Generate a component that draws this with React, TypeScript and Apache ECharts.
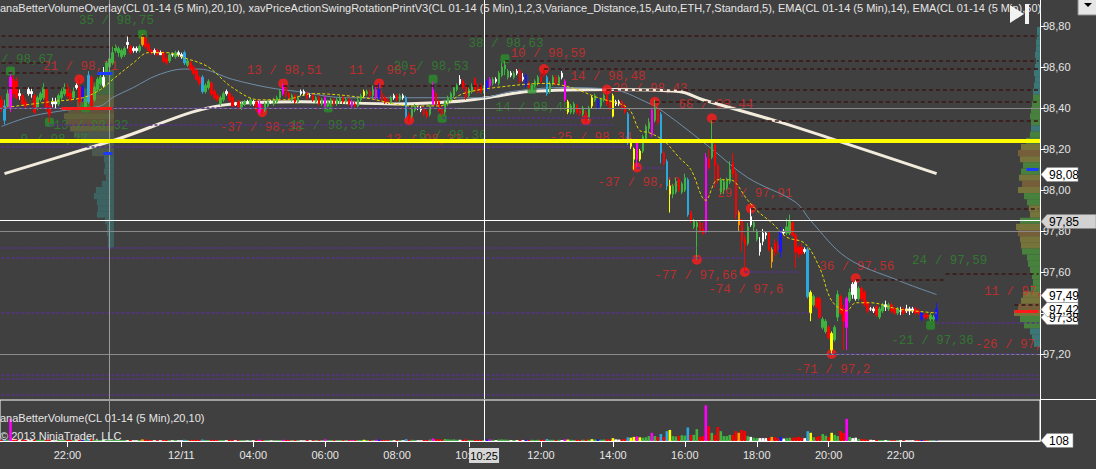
import React, { useEffect, useRef } from 'react';
import * as echarts from 'echarts';

const BG = '#404040';
const N_CATS = 347;

const opens = [
98.44,98.34,98.41,98.40,98.54,98.53,98.46,98.46,98.43,98.47,
98.48,98.46,98.40,98.44,98.45,98.49,98.41,98.42,98.43,98.42,
98.45,98.47,98.50,98.47,98.45,98.50,98.50,98.50,98.40,98.43,
98.55,98.44,98.49,98.52,98.51,98.57,98.60,98.62,98.68,98.67,
98.65,98.66,98.71,98.70,98.68,98.69,98.68,98.71,98.74,98.71,
98.68,98.67,98.68,98.66,98.67,98.64,98.63,98.66,98.65,98.66,
98.66,98.67,98.61,98.62,98.60,98.58,98.55,98.55,98.48,98.50,
98.52,98.48,98.46,98.42,98.44,98.47,98.47,98.45,98.42,98.43,
98.40,98.42,98.43,98.42,98.43,98.43,98.38,98.41,98.39,98.41,
98.43,98.42,98.43,98.45,98.47,98.50,98.47,98.44,98.46,98.43,
98.47,98.48,98.47,98.46,98.46,98.43,98.45,98.42,98.45,98.41,
98.42,98.44,98.42,98.43,98.45,98.43,98.44,98.43,98.42,98.41,
98.44,98.46,98.47,98.48,98.46,98.49,98.49,98.47,98.45,98.44,
98.43,98.45,98.46,98.44,98.46,98.45,98.37,98.36,98.39,98.40,
98.40,98.40,98.38,98.37,98.42,98.47,98.43,98.40,98.38,98.42,
98.44,98.46,98.49,98.52,98.53,98.51,98.46,98.48,98.54,98.50,
98.51,98.48,98.49,98.51,98.52,98.53,98.52,98.56,98.59,98.55,
98.57,98.55,98.57,98.58,98.54,98.56,98.52,98.49,98.51,98.52,
98.55,98.58,98.55,98.48,98.52,98.55,98.52,98.55,98.53,98.43,
98.38,98.38,98.41,98.39,98.37,98.38,98.35,98.41,98.44,98.44,
98.41,98.44,98.46,98.43,98.46,98.42,98.43,98.43,98.41,98.37,
98.24,98.20,98.24,98.15,98.19,98.25,98.30,98.27,98.34,98.40,
98.37,98.18,98.14,98.02,97.98,97.99,98.05,97.99,98.00,98.05,
97.89,97.82,97.82,97.84,97.81,97.80,98.15,98.16,98.22,98.12,
97.99,98.00,98.01,98.04,98.13,98.08,97.89,97.85,97.76,97.74,
97.83,97.82,97.76,97.70,97.75,97.78,97.79,97.71,97.74,97.73,
97.70,97.79,97.79,97.79,97.84,97.78,97.72,97.72,97.70,97.71,
97.50,97.44,97.47,97.47,97.33,97.31,97.33,97.30,97.27,97.38,
97.48,97.42,97.33,97.46,97.49,97.47,97.47,97.52,97.50,97.45,
97.42,97.41,97.43,97.38,97.41,97.43,97.42,97.44,97.42,97.40,
97.41,97.42,97.41,97.42,97.41,97.42,97.41,97.40,97.39,97.39,
97.37,97.37,97.37];

const closes = [
98.40,98.41,98.47,98.55,98.47,98.45,98.47,98.42,98.41,98.49,
98.47,98.38,98.45,98.47,98.50,98.40,98.37,98.43,98.42,98.46,
98.48,98.50,98.46,98.44,98.48,98.51,98.43,98.45,98.45,98.56,
98.41,98.50,98.54,98.55,98.55,98.62,98.64,98.67,98.70,98.69,
98.68,98.69,98.72,98.67,98.69,98.68,98.70,98.75,98.70,98.68,
98.67,98.68,98.66,98.67,98.63,98.62,98.66,98.66,98.67,98.67,
98.65,98.62,98.63,98.59,98.57,98.54,98.52,98.48,98.51,98.53,
98.47,98.45,98.44,98.45,98.47,98.48,98.44,98.41,98.42,98.40,
98.42,98.43,98.43,98.44,98.42,98.39,98.42,98.38,98.42,98.43,
98.43,98.44,98.45,98.48,98.51,98.46,98.45,98.46,98.43,98.45,
98.48,98.47,98.45,98.46,98.44,98.45,98.42,98.44,98.41,98.43,
98.44,98.42,98.44,98.45,98.43,98.44,98.42,98.41,98.41,98.44,
98.46,98.48,98.48,98.46,98.49,98.45,98.45,98.44,98.43,98.43,
98.45,98.46,98.44,98.46,98.45,98.36,98.35,98.40,98.41,98.40,
98.39,98.37,98.36,98.41,98.49,98.42,98.39,98.37,98.43,98.45,
98.47,98.50,98.51,98.54,98.50,98.45,98.49,98.51,98.49,98.48,
98.48,98.50,98.53,98.54,98.54,98.54,98.57,98.60,98.61,98.58,
98.56,98.57,98.58,98.53,98.55,98.51,98.50,98.51,98.53,98.55,
98.53,98.56,98.47,98.52,98.55,98.52,98.55,98.57,98.44,98.38,
98.41,98.42,98.38,98.37,98.40,98.34,98.40,98.45,98.46,98.40,
98.44,98.46,98.42,98.40,98.36,98.43,98.42,98.40,98.38,98.23,
98.21,98.15,98.15,98.19,98.26,98.31,98.33,98.39,98.40,98.33,
98.18,98.13,98.02,97.98,98.02,98.04,98.00,98.03,98.06,97.88,
97.85,97.85,97.84,97.80,97.79,98.16,98.11,98.23,98.12,98.05,
98.05,98.04,98.05,98.10,98.08,97.88,97.83,97.75,97.73,97.82,
97.87,97.84,97.80,97.74,97.79,97.79,97.71,97.65,97.70,97.71,
97.80,97.80,97.82,97.85,97.78,97.70,97.69,97.69,97.71,97.48,
97.40,97.48,97.43,97.38,97.37,97.36,97.28,97.22,97.33,97.49,
97.40,97.36,97.47,97.50,97.54,97.55,97.52,97.47,97.44,97.41,
97.42,97.42,97.39,97.42,97.44,97.44,97.44,97.41,97.40,97.42,
97.41,97.40,97.42,97.41,97.42,97.40,97.40,97.37,97.38,97.38,
97.39,97.38,97.42];

const lows = [
98.38,98.32,98.40,98.38,98.45,98.44,98.44,98.41,98.40,98.46,
98.45,98.37,98.39,98.43,98.44,98.38,98.33,98.40,98.40,98.41,
98.44,98.46,98.45,98.43,98.44,98.49,98.41,98.43,98.39,98.42,
98.40,98.43,98.48,98.51,98.50,98.56,98.59,98.61,98.67,98.65,
98.64,98.65,98.69,98.66,98.67,98.67,98.67,98.70,98.69,98.67,
98.66,98.66,98.65,98.66,98.62,98.61,98.62,98.65,98.64,98.65,
98.64,98.61,98.60,98.58,98.56,98.53,98.51,98.47,98.47,98.49,
98.46,98.44,98.43,98.41,98.43,98.46,98.43,98.40,98.41,98.39,
98.39,98.41,98.42,98.41,98.41,98.38,98.37,98.37,98.38,98.40,
98.42,98.41,98.42,98.44,98.46,98.45,98.44,98.43,98.42,98.42,
98.46,98.46,98.44,98.45,98.43,98.42,98.41,98.41,98.40,98.39,
98.41,98.41,98.41,98.42,98.42,98.42,98.41,98.40,98.40,98.40,
98.43,98.45,98.46,98.45,98.45,98.44,98.44,98.43,98.42,98.42,
98.42,98.44,98.43,98.43,98.44,98.35,98.33,98.35,98.38,98.39,
98.38,98.36,98.35,98.36,98.41,98.41,98.38,98.36,98.37,98.41,
98.43,98.45,98.48,98.51,98.49,98.44,98.45,98.47,98.48,98.47,
98.47,98.47,98.48,98.50,98.51,98.52,98.51,98.55,98.56,98.54,
98.55,98.54,98.56,98.52,98.53,98.50,98.49,98.48,98.50,98.51,
98.52,98.55,98.46,98.47,98.51,98.51,98.51,98.54,98.43,98.37,
98.37,98.37,98.37,98.36,98.36,98.33,98.34,98.40,98.43,98.39,
98.40,98.43,98.41,98.39,98.35,98.41,98.41,98.39,98.37,98.22,
98.20,98.10,98.11,98.14,98.18,98.24,98.28,98.26,98.33,98.32,
98.13,98.12,98.00,97.89,97.96,97.98,97.99,97.98,97.99,97.87,
97.84,97.81,97.66,97.79,97.78,97.79,98.10,98.15,98.01,98.03,
97.98,97.98,98.00,98.03,98.06,97.86,97.80,97.70,97.60,97.73,
97.82,97.80,97.75,97.68,97.73,97.76,97.70,97.62,97.68,97.69,
97.67,97.78,97.78,97.78,97.77,97.62,97.67,97.68,97.69,97.47,
97.36,97.43,97.42,97.37,97.32,97.30,97.27,97.20,97.26,97.36,
97.39,97.22,97.22,97.45,97.47,97.46,97.46,97.46,97.43,97.40,
97.41,97.40,97.38,97.37,97.40,97.41,97.41,97.40,97.39,97.39,
97.39,97.39,97.40,97.39,97.40,97.39,97.39,97.36,97.37,97.37,
97.36,97.36,97.36];

const highs = [
98.46,98.44,98.49,98.58,98.56,98.55,98.49,98.47,98.45,98.50,
98.50,98.47,98.46,98.48,98.52,98.50,98.43,98.45,98.45,98.47,
98.50,98.52,98.52,98.49,98.50,98.52,98.54,98.51,98.46,98.58,
98.56,98.51,98.55,98.57,98.60,98.63,98.65,98.70,98.71,98.70,
98.69,98.70,98.75,98.71,98.70,98.70,98.71,98.76,98.75,98.72,
98.69,98.69,98.69,98.68,98.68,98.66,98.67,98.67,98.68,98.68,
98.67,98.68,98.64,98.63,98.61,98.59,98.56,98.56,98.52,98.54,
98.53,98.49,98.47,98.46,98.48,98.49,98.48,98.46,98.43,98.44,
98.43,98.44,98.44,98.45,98.44,98.44,98.44,98.42,98.43,98.44,
98.44,98.45,98.46,98.49,98.52,98.51,98.48,98.47,98.47,98.46,
98.49,98.49,98.48,98.47,98.47,98.46,98.46,98.45,98.46,98.44,
98.45,98.45,98.45,98.46,98.46,98.45,98.45,98.44,98.43,98.45,
98.47,98.49,98.49,98.49,98.51,98.51,98.52,98.49,98.46,98.45,
98.46,98.47,98.47,98.47,98.47,98.46,98.38,98.41,98.42,98.41,
98.41,98.41,98.39,98.42,98.53,98.48,98.44,98.41,98.44,98.46,
98.48,98.51,98.52,98.56,98.54,98.52,98.50,98.52,98.55,98.52,
98.52,98.51,98.54,98.55,98.55,98.55,98.58,98.62,98.63,98.59,
98.58,98.58,98.59,98.59,98.57,98.57,98.53,98.52,98.54,98.56,
98.57,98.59,98.56,98.53,98.56,98.56,98.56,98.58,98.54,98.44,
98.42,98.43,98.42,98.40,98.41,98.39,98.41,98.46,98.47,98.45,
98.45,98.47,98.49,98.44,98.47,98.44,98.44,98.44,98.42,98.38,
98.25,98.21,98.25,98.20,98.27,98.32,98.35,98.40,98.44,98.41,
98.38,98.19,98.15,98.05,98.03,98.06,98.06,98.04,98.08,98.06,
97.90,97.86,97.85,97.85,97.84,98.18,98.20,98.34,98.23,98.13,
98.06,98.05,98.06,98.14,98.18,98.10,97.90,97.86,97.78,97.84,
97.91,97.85,97.81,97.77,97.81,97.80,97.80,97.72,97.76,97.75,
97.82,97.81,97.86,97.88,97.85,97.79,97.73,97.74,97.72,97.72,
97.51,97.49,97.48,97.48,97.38,97.37,97.34,97.31,97.34,97.51,
97.49,97.44,97.48,97.52,97.55,97.56,97.53,97.53,97.51,97.46,
97.43,97.43,97.44,97.43,97.45,97.46,97.45,97.45,97.43,97.43,
97.43,97.43,97.44,97.43,97.43,97.43,97.42,97.41,97.40,97.40,
97.40,97.39,97.45];

// per-bar colour code of the volume-coloured candles and volume bars
const barColors = [
'rcgmrrwrrw','wrgggrrwwg','ggrrgwrbgc','rgggwggggg','ggwrwwgorr',
'rwrwrrgwgw','wcgrrrrcgg','rrrggwrrwr','ggwgwrmrgg','wgggmrrgrg',
'wwrwrgrgmg','grggrgrmrg','gygrgmbrrr','gwrgwcrggw','wrrgmrrrgg',
'gggwrrggrr','rgbmgwgggg','wgwrwbrggg','rrcggrgwmy','ggrrgrgygb',
'ggrrywwrrc','yymygggmgr','crcyggrggc','rggrrmrgrr','ggggrrorrg',
'wggwwwrorr','bwggrrrrwc','ygrrggrygg','rrmgwwgrrr','wwrggwgrrg',
'wrwwwrrbrr','ggb'].join('');

const volumes = [
300,500,350,5400,600,500,250,300,250,200,
200,350,300,250,300,400,450,200,150,250,
200,250,300,250,200,150,400,350,400,700,
600,350,300,250,200,350,300,250,350,200,
250,200,200,250,150,150,250,400,350,250,
200,150,200,150,200,250,200,150,200,150,
150,300,200,250,250,300,250,350,200,200,
300,250,200,200,200,150,250,300,150,200,
200,150,100,200,150,250,300,250,200,150,
100,150,150,200,300,250,200,150,200,150,
150,100,200,150,200,150,200,150,400,250,
200,200,150,200,200,150,200,250,200,200,
250,300,200,250,250,300,350,250,200,200,
200,150,200,200,150,450,300,300,200,150,
150,250,250,350,600,450,400,350,500,400,
350,400,300,300,250,400,250,250,300,250,
250,200,350,400,300,200,350,400,350,300,
200,250,200,300,200,300,250,300,250,300,
300,350,500,300,300,250,300,250,400,350,
300,250,300,250,300,350,300,450,350,400,
300,350,400,350,700,400,350,400,450,900,
800,1000,1100,900,800,900,1200,2000,1200,1000,
1700,1000,2400,2700,1200,1100,1300,1400,1300,3300,
1500,1500,2900,1000,1200,8700,3600,2000,1500,3400,
2400,1200,1200,1500,1500,2400,2000,2700,2400,1200,
1000,800,700,700,700,700,800,1000,900,700,
1000,600,700,800,800,900,1000,800,700,2400,
2000,900,1000,1200,1700,1300,1000,2000,1500,1200,
2400,2000,5400,1000,700,800,500,500,400,300,
300,250,300,250,250,200,250,200,200,150,
200,200,150,150,200,150,200,250,200,150,
200,150,108];

// indicator lines: [bar index, price]
const smaLine = [[1,98.08],[37,98.24],[77,98.42],[100,98.43],[132,98.42],[150,98.43],[162,98.45],[176,98.48],[204,98.49],[226,98.48],[234,98.44],[260,98.33],[279,98.24],[312,98.08]];
const slowEma = [[0,98.31],[10,98.36],[22,98.39],[33,98.41],[37,98.45],[44,98.50],[52,98.56],[61,98.59],[66,98.59],[77,98.54],[89,98.50],[99,98.48],[115,98.45],[137,98.45],[160,98.45],[170,98.48],[187,98.50],[204,98.49],[215,98.43],[221,98.38],[237,98.20],[249,98.06],[265,97.94],[270,97.85],[282,97.67],[299,97.56],[312,97.49]];
const fastEma = [[0,98.40],[16,98.43],[27,98.45],[33,98.49],[38,98.55],[44,98.62],[49,98.67],[55,98.67],[62,98.64],[69,98.60],[77,98.50],[86,98.44],[94,98.44],[104,98.47],[121,98.45],[137,98.41],[146,98.41],[154,98.47],[165,98.50],[182,98.52],[190,98.50],[199,98.45],[209,98.40],[213,98.29],[216,98.28],[221,98.24],[226,98.16],[230,98.10],[235,97.95],[239,98.05],[243,98.05],[249,97.95],[252,97.90],[257,97.84],[262,97.77],[268,97.74],[273,97.62],[277,97.46],[282,97.41],[285,97.45],[290,97.45],[299,97.42],[312,97.40]];

// swing markers
const swingRed = [[26,98.54],[87,98.38],[94,98.52],[126,98.52],[136,98.34],[181,98.59],[195,98.34],[202,98.49],[212,98.11],[218,98.43],[232,97.66],[237,98.35],[248,97.60],[250,97.91],[277,97.20],[285,97.57]];
const swingGreen = [[3,98.58],[16,98.33],[28,98.40],[47,98.76],[109,98.40],[144,98.54],[147,98.35],[168,98.64],[177,98.49],[310,97.34]];

// swing labels: [bar index, price, text, colour]
const swingLabels: [number, number, string, string][] = [
  [26,98.82,'35 / 98,75','g'],[0,98.63,'/ 98,67','g'],[14,98.60,'21 / 98,71','r'],
  [15,98.31,'-13 / 98,32','g'],[4,98.24,'-9 / 98,27','g'],[82,98.58,'13 / 98,51','r'],
  [73,98.30,'-37 / 98,38','r'],[94,98.31,'-12 / 98,39','g'],[116,98.58,'11 / 98,5','r'],
  [131,98.60,'20 / 98,53','g'],[126,98.24,'-13 / 98,33','r'],[137,98.26,'-6 / 98,36','g'],
  [156,98.71,'38 / 98,63','g'],[170,98.66,'10 / 98,59','r'],[190,98.55,'14 / 98,48','r'],
  [165,98.40,'14 / 98,49','g'],[183,98.25,'-25 / 98,34','r'],[204,98.49,'20 / 98,43','r'],
  [226,98.41,'68 / 98,44','r'],[199,98.03,'-37 / 98,13','r'],[239,97.98,'29 / 97,91','r'],
  [218,97.58,'-77 / 97,66','r'],[236,97.51,'-74 / 97,6','r'],[273,97.62,'36 / 97,56','r'],
  [304,97.65,'24 / 97,59','g'],[328,97.50,'11 / 97,','r'],[265,97.12,'-71 / 97,2','r'],
  [297,97.26,'-21 / 97,36','g'],[325,97.24,'-26 / 97,','r'],
];

// level lines: [start bar, end bar, price]
const highLines = [[0,346,98.75],[0,38,98.70],[0,15,98.62],[0,22,98.57],[0,22,98.50],[168,346,98.63],[181,346,98.59],[94,160,98.51],[202,346,98.49],[218,346,98.43],[237,346,98.34],[250,346,97.91],[315,346,97.59],[285,315,97.56],[338,346,97.44]];
const lowLines = [[0,152,98.40],[16,204,98.32],[147,204,98.35],[0,211,98.21],[212,221,98.11],[0,232,97.72],[0,248,97.67],[248,266,97.60],[0,270,97.40],[312,346,97.35],[276,346,97.20],[0,346,97.10],[0,346,97.08],[0,346,97.00]];
const roundLevels = [98.40, 97.80, 97.20];
const keyLevel = 98.24;
const crossPrice = 97.85;
const crossBar = 161;
const sessionBar = 36;

// volume profiles (price bins of 0.03, volume units)
const profileStep = 0.03;
const rightProfileTop = 98.78;
const rightProfileVol = [3,3,4,4,5,4,5,6,5,6,7,7,8,9,10,9,9,10,14,19,22,20,17,19,21,18,22,16,13,11,10,20,24,22,20,19,18,13,12,10,8,7,9,17,19,22,26,20,16,10,8,6];
const rightProfileCol = ['ttttttttttt','ggggg','t','gg','obo','gg','obo','gg','oo','g','obo','o','ggggggg','oobo','gg','ttt'].join('');
const leftProfileTop = 98.57;
const leftProfileVol = [10,15,25,32,35,37,46,50,48,44,40,33,26,22,10,9,10,8,12,18,20,17,16,17,9,7,7,6,6];
const leftProfileCol = ['gggg','oo','bobo','ssss','ttttttttttttttt'].join('');
const profileMarks = [[20,37,98.40,'red'],[32,37,98.57,'blue'],[34,37,98.18,'blue'],[338,346,97.41,'red'],[342,346,98.10,'blue']];

const priceTicks = [97.2, 97.4, 97.6, 97.8, 98.0, 98.2, 98.4, 98.6, 98.8];
const tickCats = ['12/10 22:00','12/11 02:00','12/11 04:00','12/11 06:00','12/11 08:00','12/11 10:00','12/11 12:00','12/11 14:00','12/11 16:00','12/11 18:00','12/11 20:00','12/11 22:00'];
const tickLabels = ['22:00','12/11','04:00','06:00','08:00','10:00','12:00','14:00','16:00','18:00','20:00','22:00'];
const priceTags: [number, string][] = [[98.08,'w'],[97.85,'x'],[97.38,'w'],[97.49,'w'],[97.42,'w']];
const lastVolume = 108;
const crossTime = '10:25';

const TITLE = 'anaBetterVolumeOverlay(CL 01-14 (5 Min),20,10), xavPriceActionSwingRotationPrintV3(CL 01-14 (5 Min),1,2,3,Variance_Distance,15,Auto,ETH,7,Standard,5), EMA(CL 01-14 (5 Min),14), EMA(CL 01-14 (5 Min),50)';
const VOL_TITLE = 'anaBetterVolume(CL 01-14 (5 Min),20,10)';
const COPY = '\u00a9 2013 NinjaTrader, LLC';

const COLORS: Record<string, string> = { r: '#ff0000', g: '#3fb33f', c: '#2aa8e2', m: '#ff00ff', y: '#ffff00', b: '#1818ff', w: '#ffffff', o: '#ff9a00' };
const PROFILE_COLORS = ['#3a8c8c', '#4a9a3c', '#8a8838', '#8c6a38', '#5c7460'];
const PROFILE_KEYS = 'tgobs';
const SANS = '"Liberation Sans", Arial, sans-serif';
const MONO = '"Liberation Mono", "DejaVu Sans Mono", monospace';
const Y_MAX = 98.8 + 26 / 205;
const Y_MIN = Y_MAX - 399 / 205;
const VOL_MAX = 10000;

function buildCategories() {
  const out: string[] = [];
  for (let i = 0; i < N_CATS; i++) {
    let day: number, mins: number;
    if (i < 36) { day = 10; mins = 20 * 60 + 10 + 5 * i; }
    else { const m = 5 * (i - 36); day = 11 + Math.floor(m / 1440); mins = m % 1440; }
    const hh = String(Math.floor(mins / 60)).padStart(2, '0');
    const mm = String(mins % 60).padStart(2, '0');
    out.push(`12/${day} ${hh}:${mm}`);
  }
  return out;
}

function buildOption() {
  const cats = buildCategories();
  const candleData = opens.map((o, i) => {
    const col = COLORS[barColors[i]];
    return { value: [o, closes[i], lows[i], highs[i]], itemStyle: { color: col, color0: col, borderColor: col, borderColor0: col } };
  });
  const volData = volumes.map((v, i) => ({ value: v, itemStyle: { color: COLORS[barColors[i]] } }));
  const profileData: number[][] = [];
  rightProfileVol.forEach((v, k) => profileData.push([346, rightProfileTop - k * profileStep, v, PROFILE_KEYS.indexOf(rightProfileCol[k]), 0.72]));
  leftProfileVol.forEach((v, k) => profileData.push([37, leftProfileTop - k * profileStep, v, PROFILE_KEYS.indexOf(leftProfileCol[k]), 0.45]));

  const seg = (s: number, e: number, p: number, ls: any) => [{ coord: [s, p], lineStyle: ls }, { coord: [e, p], lineStyle: ls }];
  const hiStyle = { color: '#3a1616', width: 1.5, type: [4, 3] };
  const loStyle = { color: '#55338a', width: 1.5, type: [3, 2] };
  const underLines: any[] = [];
  roundLevels.forEach((p) => underLines.push({ yAxis: p, lineStyle: { color: '#8a8a8a', width: 1, type: 'solid' } }));
  highLines.forEach(([s, e, p]) => underLines.push(seg(s, e, p, hiStyle)));
  lowLines.forEach(([s, e, p]) => underLines.push(seg(s, e, p, loStyle)));
  underLines.push({ xAxis: sessionBar, lineStyle: { color: '#9a9a9a', width: 1, type: 'solid' } });

  const tickFn = (_i: number, v: string) => tickCats.indexOf(v) >= 0;
  const fmt = (v: number) => v.toFixed(2).replace('.', ',');

  return {
    backgroundColor: BG,
    animation: false,
    grid: [
      { left: 0, top: 0, width: 1040, height: 399, show: false },
      { left: 0, top: 400, width: 1040, height: 41, show: true, borderColor: '#ffffff', borderWidth: 1, backgroundColor: 'transparent' },
    ],
    xAxis: [
      { type: 'category', gridIndex: 0, data: cats, boundaryGap: true, show: false },
      {
        type: 'category', gridIndex: 1, data: cats, boundaryGap: true,
        axisLine: { show: true, lineStyle: { color: '#ffffff' } },
        axisTick: { show: true, alignWithLabel: true, interval: tickFn, length: 6, lineStyle: { color: '#ffffff' } },
        axisLabel: { interval: tickFn, formatter: (v: string) => tickLabels[tickCats.indexOf(v)], color: '#e6e6e6', fontSize: 11, fontFamily: SANS, margin: 8 },
        splitLine: { show: false },
      },
    ],
    yAxis: [
      {
        type: 'value', gridIndex: 0, min: Y_MIN, max: Y_MAX, position: 'right',
        axisLine: { show: true, lineStyle: { color: '#ffffff' } },
        axisTick: { show: true, length: 5, customValues: priceTicks, lineStyle: { color: '#ffffff' } },
        axisLabel: { customValues: priceTicks, formatter: fmt, color: '#e6e6e6', fontSize: 11, fontFamily: SANS, margin: 3 },
        splitLine: { show: false },
      },
      {
        type: 'value', gridIndex: 1, min: 0, max: VOL_MAX, position: 'right',
        axisLine: { show: true, lineStyle: { color: '#ffffff' } }, axisTick: { show: false }, axisLabel: { show: false }, splitLine: { show: false },
      },
    ],
    series: [
      {
        type: 'line', name: 'levelsUnder', xAxisIndex: 0, yAxisIndex: 0, data: [], z: 1, silent: true,
        markLine: { silent: true, symbol: ['none', 'none'], label: { show: false }, animation: false, data: underLines },
      },
      {
        type: 'custom', name: 'profiles', xAxisIndex: 0, yAxisIndex: 0, z: 1, silent: true, data: profileData,
        renderItem: (_p: any, api: any) => {
          const anchor = api.value(0), price = api.value(1), vol = api.value(2), ck = api.value(3), op = api.value(4);
          const top = api.coord([anchor, price + profileStep / 2]);
          const bot = api.coord([anchor, price - profileStep / 2]);
          const w = vol;
          return { type: 'rect', shape: { x: top[0] + 1.5 - w, y: top[1], width: w, height: bot[1] - top[1] }, style: { fill: PROFILE_COLORS[ck], opacity: op } };
        },
      },
      {
        type: 'line', name: 'profileMarks', data: [], z: 2, silent: true,
        markLine: { silent: true, symbol: ['none', 'none'], label: { show: false }, data: profileMarks.map(([s, e, p, c]) => seg(s as number, e as number, p as number, { color: c === 'red' ? '#ff1a1a' : '#1a3cff', width: 3, type: 'solid' })) },
      },
      { type: 'line', name: 'SMA', data: smaLine, smooth: 0.35, showSymbol: false, lineStyle: { color: '#f3ecdc', width: 3 }, z: 2, silent: true },
      { type: 'line', name: 'EMA slow', data: slowEma, smooth: 0.35, showSymbol: false, lineStyle: { color: '#6f8eaa', width: 1 }, z: 2, silent: true },
      {
        type: 'scatter', name: 'labels', z: 1, silent: true, symbolSize: 1, itemStyle: { color: 'rgba(0,0,0,0)' },
        data: swingLabels.map(([i, p, t, c]) => ({
          value: [i, p],
          label: { show: true, position: [0, 0], align: 'left', verticalAlign: 'middle', formatter: t, color: c === 'r' ? '#dc2a2a' : '#2f862f', fontFamily: MONO, fontSize: 12.5 },
        })),
      },
      { type: 'scatter', name: 'swingRed', data: swingRed, symbol: 'circle', symbolSize: 10, itemStyle: { color: '#ff1a1a' }, z: 2, silent: true },
      { type: 'scatter', name: 'swingGreen', data: swingGreen, symbol: 'roundRect', symbolSize: 9, itemStyle: { color: '#2a8c2a' }, z: 2, silent: true },
      { type: 'candlestick', name: 'CL', data: candleData, barWidth: 2, itemStyle: { borderWidth: 1 }, z: 3, silent: true },
      { type: 'line', name: 'EMA fast', data: fastEma, smooth: 0.35, showSymbol: false, lineStyle: { color: '#e4d400', width: 1, type: [3, 2] }, z: 4, silent: true },
      {
        type: 'line', name: 'levelsOver', data: [], z: 6, silent: true,
        markLine: {
          silent: true, symbol: ['none', 'none'], label: { show: false },
          data: [
            { yAxis: keyLevel, lineStyle: { color: '#ffff00', width: 4, type: 'solid' } },
            { yAxis: crossPrice, lineStyle: { color: '#ffffff', width: 1, type: 'solid' } },
            { xAxis: crossBar, lineStyle: { color: '#ffffff', width: 1, type: 'solid' } },
          ],
        },
      },
      { type: 'bar', name: 'Volume', xAxisIndex: 1, yAxisIndex: 1, data: volData, barWidth: 2.6, z: 3, silent: true },
      {
        type: 'line', name: 'volLines', xAxisIndex: 1, yAxisIndex: 1, data: [], z: 6, silent: true,
        markLine: {
          silent: true, symbol: ['none', 'none'], label: { show: false },
          data: [
            { xAxis: sessionBar, lineStyle: { color: '#9a9a9a', width: 1, type: 'solid' } },
            { xAxis: crossBar, lineStyle: { color: '#ffffff', width: 1, type: 'solid' } },
          ],
        },
      },
    ],
  };
}

function tagEls(y: number, text: string, fill: string, right: number) {
  return [
    { type: 'polygon', z: 100, shape: { points: [[1041, y], [1047, y - 7], [right, y - 7], [right, y + 7], [1047, y + 7]] }, style: { fill, stroke: '#8a8a8a', lineWidth: 0.6 } },
    { type: 'text', z: 101, x: 1049, y, style: { text, fill: '#000000', font: `12px ${SANS}`, verticalAlign: 'middle', textAlign: 'left' } },
  ];
}

function buildGraphics(chart: any) {
  const cats = buildCategories();
  const yP = (v: number) => chart.convertToPixel({ yAxisIndex: 0 }, v) as number;
  const yV = (v: number) => chart.convertToPixel({ yAxisIndex: 1 }, v) as number;
  const xV = (i: number) => chart.convertToPixel({ xAxisIndex: 1 }, cats[i]) as number;
  const els: any[] = [];
  els.push({ type: 'text', z: 98, x: 0, y: 8, style: { text: TITLE, fill: '#e6e6e6', font: `11px ${SANS}`, verticalAlign: 'middle' } });
  els.push({ type: 'rect', z: 99, shape: { x: 1041, y: 0, width: 55, height: 17 }, style: { fill: BG } });
  els.push({ type: 'polygon', z: 100, shape: { points: [[1010, 5], [1010, 23], [1024, 14]] }, style: { fill: '#f2f2f2' } });
  els.push({ type: 'rect', z: 100, shape: { x: 1025, y: 4, width: 4, height: 20 }, style: { fill: '#f2f2f2' } });
  els.push({ type: 'rect', z: 100, shape: { x: 1078, y: -1, width: 19, height: 16 }, style: { fill: '#e6e6e6', stroke: '#8a8a8a', lineWidth: 1 } });
  els.push({ type: 'polygon', z: 101, shape: { points: [[1084, 3], [1092, 3], [1088, 7]] }, style: { fill: '#000000' } });
  els.push({ type: 'line', z: 100, shape: { x1: 1040, y1: 399.5, x2: 1096, y2: 399.5 }, style: { stroke: '#ffffff', lineWidth: 1 } });
  els.push({ type: 'text', z: 100, x: 0, y: 418, style: { text: VOL_TITLE, fill: '#e6e6e6', font: `11px ${SANS}`, verticalAlign: 'middle' } });
  els.push({ type: 'text', z: 100, x: 0, y: 436, style: { text: COPY, fill: '#e6e6e6', font: `11px ${SANS}`, verticalAlign: 'middle' } });
  priceTags.forEach(([v, k]) => {
    const y = Math.round(yP(v)) + 0.5;
    els.push(...tagEls(y, v.toFixed(2).replace('.', ','), k === 'x' ? '#d2d2d2' : '#ffffff', k === 'x' ? 1096 : 1078));
  });
  els.push(...tagEls(Math.round(yV(lastVolume)) - 0.5, String(lastVolume), '#ffffff', 1073));
  const cx = xV(crossBar);
  els.push({ type: 'rect', z: 100, shape: { x: cx - 15, y: 448, width: 30, height: 15 }, style: { fill: '#d6d6d6' } });
  els.push({ type: 'text', z: 101, x: cx, y: 455.5, style: { text: crossTime, fill: '#000000', font: `11px ${SANS}`, verticalAlign: 'middle', textAlign: 'center' } });
  return els;
}

export default function App() {
  const ref = useRef<HTMLDivElement>(null);
  useEffect(() => {
    const chart = echarts.init(ref.current as HTMLDivElement, null, { renderer: 'svg', width: 1096, height: 469 });
    chart.setOption(buildOption() as any);
    chart.setOption({ graphic: buildGraphics(chart) } as any);
    return () => chart.dispose();
  }, []);
  return <div ref={ref} style={{ position: 'fixed', left: 0, top: 0, width: 1096, height: 469 }} />;
}
